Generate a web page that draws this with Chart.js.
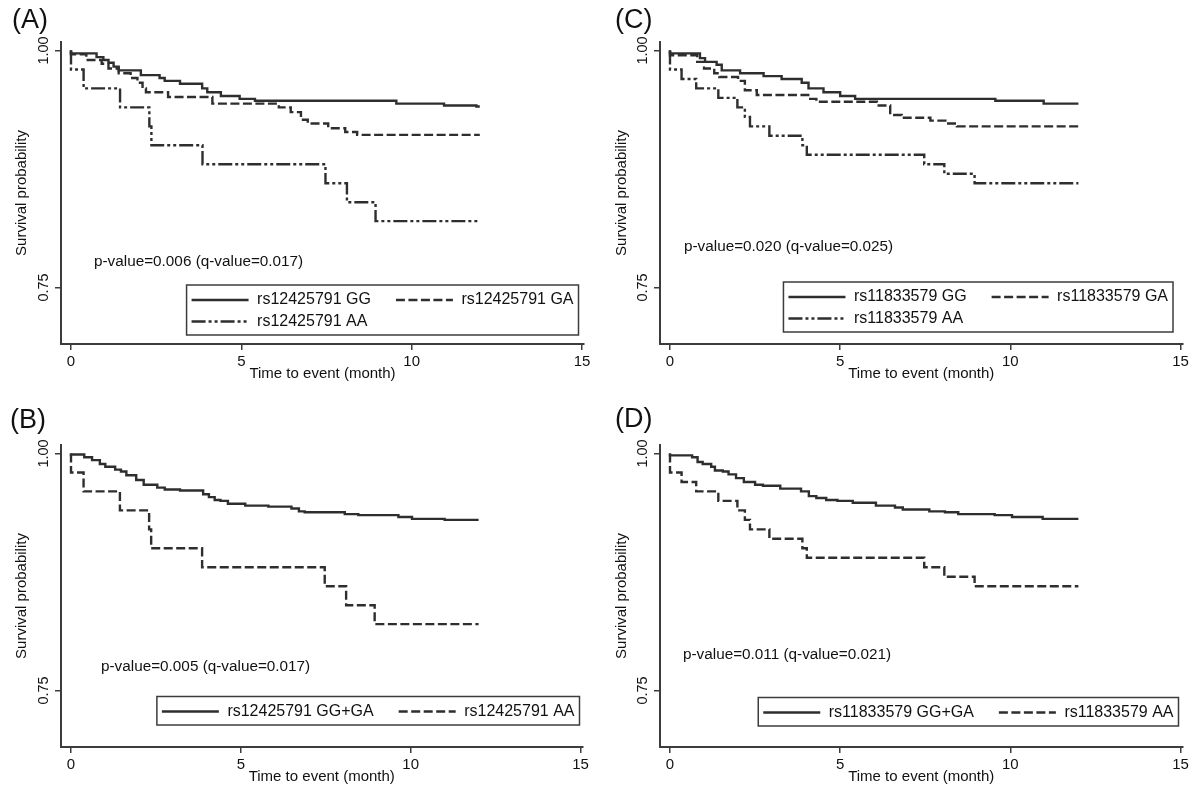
<!DOCTYPE html>
<html lang="en">
<head>
<meta charset="UTF-8">
<title>Kaplan-Meier curves</title>
<script src="https://cdn.jsdelivr.net/npm/chart.js"></script>
<style>
  body { margin: 0; background: #fff; }
  #wrap { position: relative; width: 1200px; height: 812px; background: #fff; }
  canvas { position: absolute; }
</style>
</head>
<body>
<div id="wrap">
  <canvas id="chartA" width="600" height="403" style="left:0;top:0"></canvas>
  <canvas id="chartC" width="600" height="403" style="left:600px;top:0"></canvas>
  <canvas id="chartB" width="600" height="409" style="left:0;top:403px"></canvas>
  <canvas id="chartD" width="600" height="409" style="left:600px;top:403px"></canvas>
</div>
<script>
// axis ticks
const xTicks = [0, 5, 10, 15];
const yTicks = [0.75, 1.00];

// (A) rs12425791 by genotype
const timeA_GG = [0, 0.75, 0.95, 1.1, 1.25, 1.4, 2.05, 2.6, 2.75, 3.2, 3.85, 4.0, 4.4, 4.95, 5.4, 9.55, 10.95, 11.9, 12];
const survA_GG = [1, 0.997, 0.993, 0.99, 0.987, 0.983, 0.979, 0.974, 0.971, 0.968, 0.965, 0.96, 0.956, 0.952, 0.949, 0.947, 0.944, 0.942, 0.941];
const timeA_GA = [0, 0.45, 0.9, 1.1, 1.4, 1.75, 1.95, 2.1, 2.2, 2.85, 4.15, 6.1, 6.45, 6.75, 6.95, 7.55, 8.05, 8.4, 9.95, 12];
const survA_GA = [1, 0.996, 0.99, 0.986, 0.981, 0.976, 0.971, 0.966, 0.96, 0.956, 0.951, 0.944, 0.94, 0.935, 0.927, 0.923, 0.918, 0.914, 0.911, 0.911];
const timeA_AA = [0, 0.37, 1.44, 2.3, 2.36, 3.86, 7.47, 8.1, 8.94, 11.43, 12];
const survA_AA = [1, 0.98, 0.96, 0.94, 0.92, 0.9, 0.88, 0.86, 0.84, 0.82, 0.82];

// (B) rs12425791 GG+GA vs AA
const timeB_GGGA = [0, 0.39, 0.62, 0.85, 1.01, 1.3, 1.47, 1.63, 1.92, 2.14, 2.54, 2.76, 3.21, 3.89, 4.06, 4.23, 4.4, 4.62, 5.13, 5.81, 6.49, 6.71, 6.88, 8.06, 8.46, 9.64, 10.04, 11.0, 11.96, 12];
const survB_GGGA = [1, 0.999, 0.996, 0.993, 0.989, 0.986, 0.983, 0.981, 0.977, 0.972, 0.967, 0.964, 0.962, 0.961, 0.957, 0.954, 0.951, 0.95, 0.947, 0.945, 0.944, 0.942, 0.939, 0.938, 0.936, 0.935, 0.933, 0.931, 0.93, 0.93];
const timeB_AA = [0, 0.37, 1.44, 2.3, 2.36, 3.86, 7.47, 8.1, 8.94, 11.43, 12];
const survB_AA = [1, 0.98, 0.96, 0.94, 0.92, 0.9, 0.88, 0.86, 0.84, 0.82, 0.82];

// (C) rs11833579 by genotype
const timeC_GG = [0, 0.88, 1.03, 1.37, 1.52, 2.06, 2.75, 3.28, 3.87, 4.07, 4.51, 5.0, 5.44, 9.56, 10.98, 11.86, 12];
const survC_GG = [1, 0.997, 0.992, 0.988, 0.985, 0.979, 0.976, 0.973, 0.97, 0.966, 0.96, 0.956, 0.952, 0.949, 0.947, 0.944, 0.944];
const timeC_GA = [0, 0.8, 1.0, 1.3, 1.45, 2.0, 2.2, 2.55, 4.12, 4.3, 6.08, 6.47, 6.81, 7.65, 8.09, 8.43, 10.0, 12];
const survC_GA = [1, 0.995, 0.988, 0.981, 0.976, 0.972, 0.968, 0.958, 0.953, 0.949, 0.946, 0.942, 0.932, 0.929, 0.926, 0.923, 0.92, 0.92];
const timeC_AA = [0, 0.34, 0.77, 1.42, 1.98, 2.2, 2.35, 2.92, 3.89, 4.02, 7.47, 8.06, 8.95, 11.45, 12];
const survC_AA = [1, 0.98, 0.97, 0.96, 0.95, 0.94, 0.93, 0.92, 0.91, 0.9, 0.89, 0.88, 0.87, 0.86, 0.86];

// (D) rs11833579 GG+GA vs AA
const timeD_GGGA = [0, 0.65, 0.81, 0.96, 1.21, 1.32, 1.55, 1.72, 1.94, 2.17, 2.5, 2.73, 3.24, 3.85, 4.08, 4.3, 4.59, 4.92, 5.37, 6.05, 6.61, 6.84, 7.62, 8.08, 8.47, 9.54, 10.05, 10.95, 11.9, 12];
const survD_GGGA = [1, 0.998, 0.996, 0.991, 0.989, 0.986, 0.982, 0.981, 0.978, 0.974, 0.97, 0.967, 0.966, 0.963, 0.96, 0.955, 0.953, 0.951, 0.95, 0.948, 0.945, 0.943, 0.941, 0.939, 0.938, 0.936, 0.935, 0.933, 0.931, 0.931];
const timeD_AA = [0, 0.34, 0.77, 1.42, 1.98, 2.2, 2.35, 2.92, 3.89, 4.02, 7.47, 8.06, 8.95, 11.45, 12];
const survD_AA = [1, 0.98, 0.97, 0.96, 0.95, 0.94, 0.93, 0.92, 0.91, 0.9, 0.89, 0.88, 0.87, 0.86, 0.86];

const FONT = '"Liberation Sans", Arial, sans-serif';
const LINE = '#2e2e2e';
const AXIS = '#3c3c3c';
const TEXT = '#111';
const SOLID = [];
const DASH = [9, 3.5];
const DASHDOT = [14, 3, 3, 3, 3, 3];

// vertical frame shared by all panels (canvas pixels)
const frame = { top: 42, y1: 50.5, y075: 287.5, bottom: 344, xAxisH: 39, padLeft: 13 };

const panels = [
  { id: 'chartA', letter: '(A)', letterAt: [12, 21], note: 'p-value=0.006 (q-value=0.017)', noteAt: [94, 262],
    left: 61, x0: 71, x15: 582, legendRight: 578.5, legendBottom: 335, cols: 2,
    series: [
      { label: 'rs12425791 GG', t: timeA_GG, s: survA_GG, dash: SOLID },
      { label: 'rs12425791 GA', t: timeA_GA, s: survA_GA, dash: DASH },
      { label: 'rs12425791 AA', t: timeA_AA, s: survA_AA, dash: DASHDOT }
    ] },
  { id: 'chartC', letter: '(C)', letterAt: [15, 21], note: 'p-value=0.020 (q-value=0.025)', noteAt: [84, 247],
    left: 60, x0: 70, x15: 580.5, legendRight: 573, legendBottom: 332, cols: 2,
    series: [
      { label: 'rs11833579 GG', t: timeC_GG, s: survC_GG, dash: SOLID },
      { label: 'rs11833579 GA', t: timeC_GA, s: survC_GA, dash: DASH },
      { label: 'rs11833579 AA', t: timeC_AA, s: survC_AA, dash: DASHDOT }
    ] },
  { id: 'chartB', letter: '(B)', letterAt: [10, 18], note: 'p-value=0.005 (q-value=0.017)', noteAt: [101, 264],
    left: 61, x0: 71, x15: 580.5, legendRight: 579.5, legendBottom: 322, cols: 2,
    series: [
      { label: 'rs12425791 GG+GA', t: timeB_GGGA, s: survB_GGGA, dash: SOLID },
      { label: 'rs12425791 AA', t: timeB_AA, s: survB_AA, dash: DASH }
    ] },
  { id: 'chartD', letter: '(D)', letterAt: [15, 17], note: 'p-value=0.011 (q-value=0.021)', noteAt: [83, 252],
    left: 60, x0: 70, x15: 580.5, legendRight: 578.5, legendBottom: 323, cols: 2,
    series: [
      { label: 'rs11833579 GG+GA', t: timeD_GGGA, s: survD_GGGA, dash: SOLID },
      { label: 'rs11833579 AA', t: timeD_AA, s: survD_AA, dash: DASH }
    ] }
];

// panel letter, p-value note and boxed legend
const decor = {
  id: 'decor',
  afterDraw(chart, args, o) {
    const ctx = chart.ctx;
    ctx.save();
    ctx.fillStyle = TEXT;
    ctx.textBaseline = 'middle';
    ctx.textAlign = 'left';
    ctx.font = '27px ' + FONT;
    ctx.fillText(o.letter, o.letterAt[0], o.letterAt[1]);
    ctx.font = '15.3px ' + FONT;
    ctx.fillText(o.note, o.noteAt[0], o.noteAt[1]);

    ctx.font = '16px ' + FONT;
    const sets = chart.data.datasets;
    const cols = o.cols;
    const rows = Math.ceil(sets.length / cols);
    const pad = 5, lineW = 57, gap = 8.5, colGap = 25, rightPad = 5, rowH = 21.5;
    const colW = [];
    for (let c = 0; c < cols; c++) {
      let w = 0;
      sets.forEach((d, i) => { if (i % cols === c) w = Math.max(w, ctx.measureText(d.label).width); });
      colW.push(w);
    }
    let total = pad + rightPad + colGap * (cols - 1);
    colW.forEach(w => { total += lineW + gap + w; });
    const boxH = rows * rowH + 7;
    const bx = o.legendRight - total;
    const by = o.legendBottom - boxH;

    ctx.strokeStyle = AXIS;
    ctx.lineWidth = 1.5;
    ctx.setLineDash([]);
    ctx.strokeRect(bx, by, total, boxH);

    sets.forEach((d, i) => {
      const c = i % cols;
      const r = Math.floor(i / cols);
      let x = bx + pad;
      for (let k = 0; k < c; k++) x += lineW + gap + colW[k] + colGap;
      const y = by + 15 + r * rowH;
      ctx.strokeStyle = d.borderColor;
      ctx.lineWidth = d.borderWidth;
      ctx.setLineDash(d.borderDash);
      ctx.beginPath();
      ctx.moveTo(x, y);
      ctx.lineTo(x + lineW, y);
      ctx.stroke();
      ctx.setLineDash([]);
      ctx.fillText(d.label, x + lineW + gap, y);
    });
    ctx.restore();
  }
};

function makeChart(p) {
  const canvas = document.getElementById(p.id);
  const H = canvas.height;
  const right = p.x15 + 2;
  const ppx = (p.x15 - p.x0) / 15;
  const ppy = (frame.y075 - frame.y1) / 0.25;
  return new Chart(canvas, {
    type: 'line',
    data: {
      datasets: p.series.map(s => ({
        label: s.label,
        data: s.t.map((t, i) => ({ x: t, y: s.s[i] })),
        borderColor: LINE,
        borderWidth: 2.4,
        borderDash: s.dash,
        stepped: 'after',
        pointRadius: 0,
        fill: false
      }))
    },
    options: {
      responsive: false,
      animation: false,
      events: [],
      layout: {
        padding: {
          left: frame.padLeft,
          top: frame.top,
          right: canvas.width - right,
          bottom: H - frame.bottom - frame.xAxisH
        }
      },
      plugins: {
        legend: { display: false },
        tooltip: { enabled: false },
        decor: p
      },
      scales: {
        x: {
          type: 'linear',
          min: (p.left - p.x0) / ppx,
          max: (right - p.x0) / ppx,
          afterFit: s => { s.height = frame.xAxisH; },
          afterBuildTicks: s => { s.ticks = xTicks.map(v => ({ value: v })); },
          grid: { display: true, drawOnChartArea: false, drawTicks: true, tickLength: 6, color: AXIS, lineWidth: 1.5 },
          border: { display: true, color: AXIS, width: 2 },
          ticks: { color: TEXT, font: { family: FONT, size: 15 }, padding: 3, maxRotation: 0, autoSkip: false },
          title: { display: true, text: 'Time to event (month)', color: TEXT, font: { family: FONT, size: 15 }, padding: 0 }
        },
        y: {
          type: 'linear',
          min: 0.75 - (frame.bottom - frame.y075) / ppy,
          max: 1 + (frame.y1 - frame.top) / ppy,
          afterFit: s => { s.width = p.left - frame.padLeft; },
          afterBuildTicks: s => { s.ticks = yTicks.map(v => ({ value: v })); },
          grid: { display: true, drawOnChartArea: false, drawTicks: true, tickLength: 6, color: AXIS, lineWidth: 1.5 },
          border: { display: true, color: AXIS, width: 2 },
          ticks: {
            color: TEXT, font: { family: FONT, size: 14.5 }, padding: -3,
            minRotation: 90, maxRotation: 90, crossAlign: 'center',
            callback: v => v.toFixed(2)
          },
          title: { display: true, text: 'Survival probability', color: TEXT, font: { family: FONT, size: 15 }, padding: 0 }
        }
      }
    },
    plugins: [decor]
  });
}

panels.forEach(makeChart);
</script>
</body>
</html>
